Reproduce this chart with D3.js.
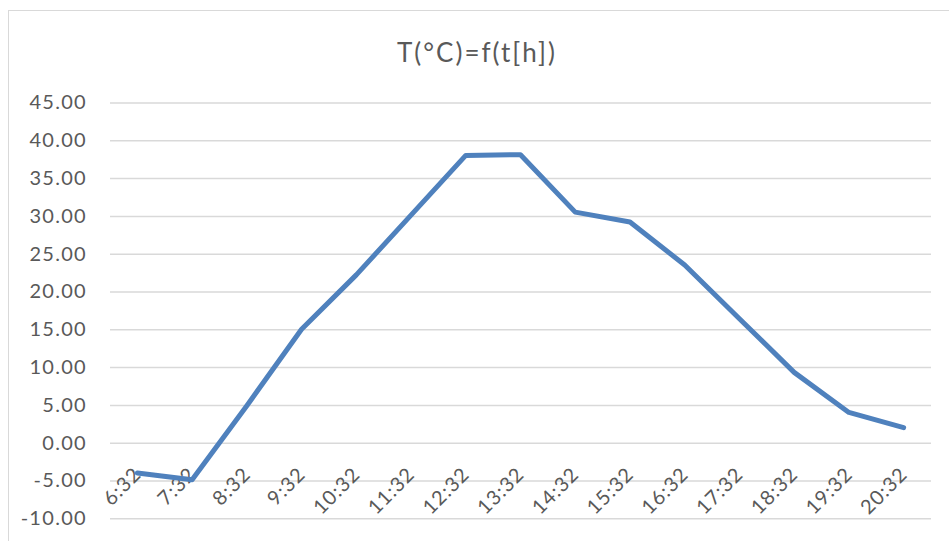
<!DOCTYPE html>
<html>
<head>
<meta charset="utf-8">
<script src="https://cdn.jsdelivr.net/npm/d3@7"></script>
<style>
  html, body { margin: 0; padding: 0; background: #fff; }
  svg { display: block; }
  text { font-family: Lato, "Open Sans", sans-serif; fill: #595959; }
</style>
</head>
<body>
<svg id="chart" width="949" height="541"></svg>
<script>
// Time of day for each reading
const times = ["6:32", "7:32", "8:32", "9:32", "10:32", "11:32", "12:32", "13:32",
               "14:32", "15:32", "16:32", "17:32", "18:32", "19:32", "20:32"];
// Temperature in °C at each time
const temps = [-4.0, -4.9, 4.9, 15.0, 22.2, 30.1, 38.0, 38.1,
               30.5, 29.2, 23.5, 16.4, 9.3, 4.0, 2.0];
// Value axis ticks
const yTicks = [-10, -5, 0, 5, 10, 15, 20, 25, 30, 35, 40, 45];
const chartTitle = "T(°C)=f(t[h])";

const svg = d3.select("#chart");
const plot = { left: 110, right: 931, top: 102.5, bottom: 518.3 };

// Chart area frame
svg.append("rect")
  .attr("x", 8.5).attr("y", 10.5)
  .attr("width", 975).attr("height", 560)
  .attr("fill", "#fff").attr("stroke", "#d9d9d9").attr("stroke-width", 1);

const x = d3.scaleBand().domain(times).range([plot.left, plot.right]);
const y = d3.scaleLinear().domain([-10, 45]).range([plot.bottom, plot.top]);

// Title
svg.append("text")
  .attr("x", 477).attr("y", 62)
  .attr("text-anchor", "middle")
  .style("font-size", "26px")
  .style("letter-spacing", "2px")
  .text(chartTitle);

// Two decimals, plain hyphen for negatives
const fmt = d => d3.format(".2f")(d).replace("\u2212", "-");

// Horizontal gridlines + value labels
const yAxis = d3.axisLeft(y)
  .tickValues(yTicks)
  .tickSize(-(plot.right - plot.left))
  .tickPadding(23)
  .tickFormat(fmt);

const gy = svg.append("g")
  .attr("transform", `translate(${plot.left},0)`)
  .call(yAxis);
gy.select(".domain").remove();
gy.selectAll(".tick line").attr("stroke", "#d9d9d9").attr("stroke-width", 1.5);
gy.selectAll(".tick text")
  .style("font-size", "20px")
  .style("letter-spacing", "1.3px")
  .attr("fill", "#595959");

// Category labels sit next to the zero line, rotated 45°
const gx = svg.append("g")
  .attr("transform", `translate(0,${y(0)})`)
  .call(d3.axisBottom(x).tickSize(0).tickPadding(0));
gx.select(".domain").remove();
gx.selectAll(".tick text")
  .style("font-size", "20px")
  .style("letter-spacing", "1px")
  .attr("fill", "#595959")
  .attr("text-anchor", "end")
  .attr("y", 0).attr("dy", 0)
  .attr("transform", "translate(5,33) rotate(-45)");

// Temperature line
const line = d3.line()
  .x((d, i) => x(times[i]) + x.bandwidth() / 2)
  .y(d => y(d));

svg.append("path")
  .datum(temps)
  .attr("d", line)
  .attr("fill", "none")
  .attr("stroke", "#4f81bd")
  .attr("stroke-width", 5)
  .attr("stroke-linejoin", "round")
  .attr("stroke-linecap", "round");
</script>
</body>
</html>
